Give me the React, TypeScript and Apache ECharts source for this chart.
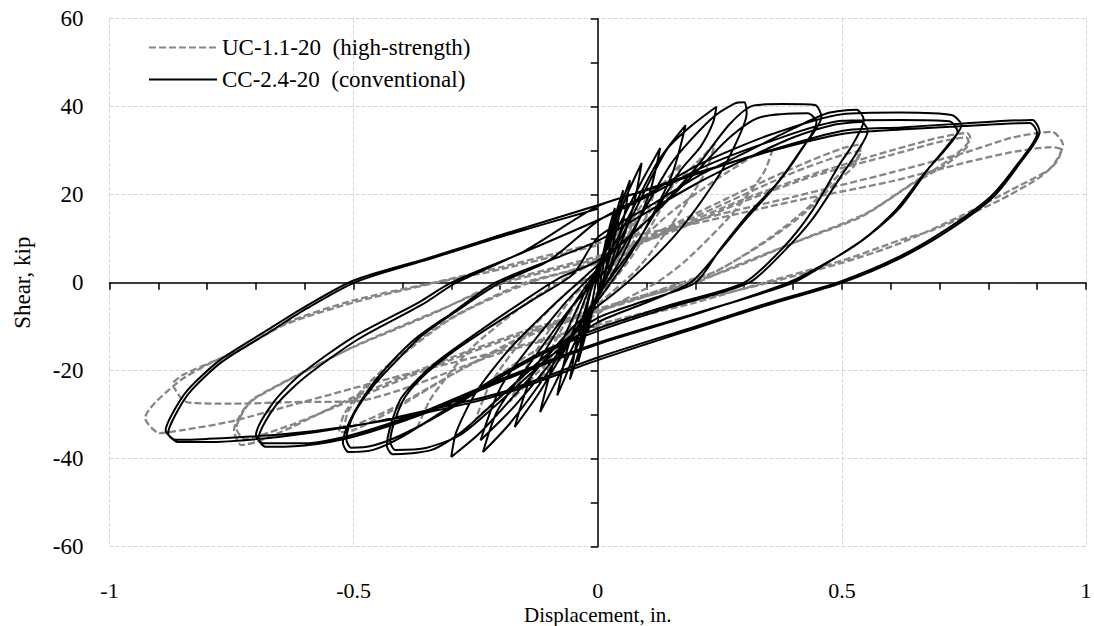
import React, { useEffect, useRef } from "react";
import * as echarts from "echarts";

const xTicks = [-1, -0.5, 0, 0.5, 1];
const yTicks = [-60, -40, -20, 0, 20, 40, 60];
const seriesNames = ["UC-1.1-20  (high-strength)", "CC-2.4-20  (conventional)"];

// CC-2.4-20 (conventional) cycles, [displacement in., shear kip]
const cc1 = [[0,0],[0.01,6],[0.02,11],[0.013,5],[0.003,-1],[-0.01,-6],[-0.02,-11],[-0.012,-5],[-0.002,1]];
const cc2 = [[0.012,7],[0.025,13],[0.035,17],[0.026,9],[0.01,0],[-0.015,-8],[-0.03,-14],[-0.04,-18],[-0.028,-9],[-0.01,0]];
const cc3 = [[0.015,8],[0.035,15],[0.052,21],[0.04,13],[0.015,2],[-0.02,-9],[-0.045,-18],[-0.057,-22],[-0.042,-13],[-0.015,-2]];
const cc4 = [[0.02,9],[0.045,17],[0.066,23.3],[0.052,14],[0.02,2],[-0.03,-11],[-0.065,-21],[-0.083,-25.6],[-0.062,-15],[-0.02,-2]];
const cc5 = [[0.02,8],[0.06,20],[0.09,27.2],[0.072,17],[0.03,4],[-0.04,-12],[-0.09,-23.5],[-0.118,-29.4],[-0.09,-18],[-0.03,-3]];
const cc6 = [[0.03,10],[0.09,23],[0.128,30.6],[0.105,20],[0.045,5],[-0.05,-12],[-0.12,-25],[-0.17,-32.8],[-0.135,-21],[-0.05,-5]];
const cc7 = [[0.03,8],[0.12,27],[0.18,35.8],[0.15,24],[0.07,7],[-0.06,-13],[-0.17,-28],[-0.24,-35.8],[-0.195,-23],[-0.07,-5]];
const cc8 = [[0.03,7],[0.14,30],[0.19,35.5],[0.243,40],[0.236,36.3],[0.21,30.8],[0.17,25.6],[0.085,10],[0,-3],[-0.1,-20],[-0.18,-32],[-0.235,-38.5],[-0.205,-29],[-0.13,-17],[-0.05,-5]];
const cc9 = [[0.04,6],[0.15,27],[0.23,37],[0.28,40.7],[0.3,41],[0.305,38.5],[0.28,31],[0.24,23],[0.16,11],[0.06,0],[-0.05,-10],[-0.15,-23],[-0.24,-34],[-0.3,-39.6],[-0.29,-34],[-0.25,-25],[-0.18,-15],[-0.09,-5]];
const cc10 = [[0,4],[0.1,14],[0.2,26],[0.27,36],[0.32,40.3],[0.38,40.6],[0.445,40.4],[0.458,37.7],[0.415,30],[0.367,22.6],[0.31,15.8],[0.25,7.5],[0.2,0],[0.1,-4],[0,-8],[-0.1,-16],[-0.2,-26],[-0.28,-34],[-0.34,-38],[-0.42,-39],[-0.432,-37],[-0.405,-26.7],[-0.364,-21.4],[-0.317,-16.9],[-0.24,-10.8],[-0.15,-4],[-0.08,1]];
const cc11 = [[0,5],[0.1,14],[0.2,25],[0.27,33],[0.33,37.5],[0.43,38.5],[0.448,36.5],[0.41,29],[0.36,21.5],[0.3,14],[0.24,6],[0.19,0],[0.1,-4.5],[0,-9],[-0.1,-17],[-0.2,-27],[-0.28,-34.5],[-0.35,-37.5],[-0.415,-38],[-0.425,-36],[-0.4,-27],[-0.36,-21.5],[-0.3,-16],[-0.22,-10],[-0.12,-3],[-0.05,2]];
const cc12 = [[0,10.3],[0.1,17],[0.21,24.5],[0.31,30],[0.4,35],[0.47,38.5],[0.53,39.3],[0.545,37],[0.52,31],[0.497,27.2],[0.436,15.8],[0.38,8],[0.3,0],[0.15,-5],[0,-10.4],[-0.1,-15],[-0.2,-21],[-0.3,-28],[-0.4,-35],[-0.46,-38],[-0.51,-38.5],[-0.522,-36.4],[-0.507,-31.2],[-0.47,-24.4],[-0.425,-18.3],[-0.37,-12.4],[-0.3,-7],[-0.21,0],[-0.1,5]];
const cc13 = [[0,9.5],[0.1,16],[0.21,23],[0.31,28.5],[0.4,33],[0.48,35.8],[0.54,36.5],[0.553,34.5],[0.53,29.5],[0.5,24.5],[0.44,14.5],[0.38,7],[0.31,0],[0.15,-5.5],[0,-11],[-0.1,-15.5],[-0.2,-21.5],[-0.3,-28.5],[-0.4,-34.5],[-0.46,-37],[-0.505,-37.5],[-0.515,-35.5],[-0.5,-30],[-0.46,-23.5],[-0.41,-17.5],[-0.36,-12],[-0.29,-6.5],[-0.2,0],[-0.1,5]];
const cc14 = [[0,14],[0.1,20],[0.21,27],[0.35,33.5],[0.5,38.3],[0.62,38.7],[0.725,38.1],[0.745,35.8],[0.715,31],[0.68,26.3],[0.62,17.2],[0.55,10.3],[0.48,5.2],[0.4,0],[0.2,-7],[0,-13.7],[-0.2,-22],[-0.35,-29],[-0.5,-34.5],[-0.6,-36.5],[-0.685,-36.5],[-0.7,-34.7],[-0.665,-27.3],[-0.61,-21],[-0.5,-12.3],[-0.37,-4.7],[-0.3,0],[-0.15,7]];
const cc15 = [[0,14.2],[0.1,19.5],[0.21,26],[0.35,32],[0.5,36.8],[0.62,37],[0.72,36.7],[0.737,34.3],[0.71,30],[0.67,25],[0.61,16.5],[0.54,9.5],[0.47,4.6],[0.39,0],[0.2,-7.2],[0,-14],[-0.2,-22.5],[-0.35,-29.5],[-0.5,-35],[-0.6,-37],[-0.68,-37.3],[-0.695,-35.5],[-0.66,-28],[-0.6,-21.5],[-0.49,-12.8],[-0.36,-5],[-0.29,0],[-0.15,7.2]];
const cc16 = [[0,17.4],[0.1,21],[0.21,25],[0.35,30],[0.5,34.5],[0.62,35.3],[0.75,36.2],[0.89,37],[0.905,34.3],[0.865,27.2],[0.81,19.5],[0.72,12],[0.62,5.6],[0.5,0],[0.35,-5],[0.21,-10],[0,-17.6],[-0.2,-25.5],[-0.35,-29.5],[-0.5,-32.5],[-0.65,-34.5],[-0.8,-35.5],[-0.865,-35.7],[-0.885,-33.5],[-0.87,-29.5],[-0.84,-24.4],[-0.774,-17.6],[-0.677,-10.8],[-0.6,-5.5],[-0.5,0.5],[-0.35,5.5],[-0.2,10.8],[0,17.6]];
const cc17 = [[0.1,21.2],[0.21,25.2],[0.35,29.8],[0.5,33.8],[0.62,34.8],[0.75,35.6],[0.885,36.3],[0.9,34],[0.86,27],[0.805,19.6],[0.715,12.2],[0.615,5.8],[0.495,0.2],[0.35,-4.6],[0.21,-9.6],[0,-17],[-0.2,-25],[-0.35,-29],[-0.5,-32.6],[-0.65,-35],[-0.8,-36.2],[-0.86,-36.2],[-0.88,-34.2],[-0.865,-30],[-0.835,-24.8],[-0.77,-18],[-0.672,-11.2],[-0.595,-5.8],[-0.495,0.2],[-0.35,5.2],[-0.2,10.4],[0,16.8]];

// UC-1.1-20 (high-strength) cycles
const uc1 = [[0,0],[0.015,5],[0.03,9],[0.02,4],[0.005,-1],[-0.015,-5],[-0.03,-9],[-0.02,-4],[-0.005,1]];
const uc2 = [[0.015,5],[0.035,10],[0.05,13],[0.035,7],[0.01,0],[-0.02,-6],[-0.04,-11],[-0.05,-13],[-0.035,-7],[-0.01,0]];
const uc3 = [[0.02,5],[0.055,13],[0.08,17],[0.06,10],[0.02,1],[-0.03,-8],[-0.06,-14],[-0.08,-18],[-0.06,-11],[-0.02,-1]];
const uc4 = [[0.02,4],[0.08,16],[0.12,22],[0.095,14],[0.04,3],[-0.03,-8],[-0.09,-18],[-0.12,-22],[-0.09,-14],[-0.03,-2]];
const uc5 = [[0.03,5],[0.1,18],[0.17,27],[0.14,19],[0.07,6],[-0.03,-8],[-0.12,-20],[-0.18,-27],[-0.14,-18],[-0.05,-3]];
const uc6 = [[0.03,4],[0.12,18],[0.2,27],[0.24,31.5],[0.22,25],[0.15,13],[0.08,3],[0,-5],[-0.1,-16],[-0.2,-26],[-0.25,-31],[-0.22,-23],[-0.14,-11],[-0.05,-1]];
const uc7 = [[0.04,5],[0.15,16],[0.25,24],[0.33,29.5],[0.36,31],[0.34,25],[0.27,15],[0.18,5],[0.12,0],[0,-7],[-0.15,-17],[-0.28,-27],[-0.37,-33],[-0.34,-26],[-0.26,-15],[-0.15,-5],[-0.08,0]];
const uc8 = [[0,5],[0.15,13],[0.3,21],[0.42,27],[0.5,30.5],[0.54,31.5],[0.53,28],[0.497,24.9],[0.43,17],[0.35,10],[0.25,3],[0.18,0],[0,-6],[-0.15,-12],[-0.3,-21],[-0.42,-29],[-0.5,-33.5],[-0.53,-34],[-0.52,-30],[-0.48,-24],[-0.4,-16],[-0.3,-8],[-0.15,0],[-0.05,3]];
const uc9 = [[0.1,10],[0.25,17.5],[0.4,25],[0.5,29],[0.54,30],[0.525,26.5],[0.49,23],[0.42,15.5],[0.34,9],[0.24,2.5],[0.17,0],[0,-6.5],[-0.15,-12.5],[-0.3,-21],[-0.42,-28.5],[-0.5,-32.5],[-0.52,-33],[-0.51,-29],[-0.47,-23.5],[-0.39,-15.5],[-0.29,-7.5],[-0.14,0],[0,4.5]];
const uc10 = [[0.15,12],[0.3,19],[0.45,25],[0.6,30],[0.7,33],[0.757,34],[0.763,32.9],[0.72,28],[0.654,23.3],[0.55,15.8],[0.415,9.7],[0.277,3.6],[0.2,0],[0,-6],[-0.15,-11],[-0.3,-17],[-0.5,-26],[-0.63,-33],[-0.7,-36.2],[-0.73,-36.9],[-0.745,-33.5],[-0.72,-28],[-0.7,-26],[-0.58,-19],[-0.5,-14.6],[-0.337,-7],[-0.2,0],[0,6]];
const uc11 = [[0.15,11.5],[0.3,18.5],[0.45,24.5],[0.6,29],[0.7,32],[0.755,33],[0.76,31.8],[0.715,27],[0.645,22.5],[0.54,15],[0.4,9],[0.27,3],[0.19,0],[0,-6.5],[-0.15,-11.5],[-0.3,-17.5],[-0.5,-26.5],[-0.62,-32],[-0.7,-35],[-0.725,-35.5],[-0.74,-33],[-0.715,-27.5],[-0.69,-25.5],[-0.57,-18.5],[-0.49,-14],[-0.33,-6.5],[-0.19,0],[0,5.5]];
const uc12 = [[0.2,14],[0.4,19.5],[0.6,25],[0.75,29.5],[0.85,33],[0.93,34.3],[0.953,31.3],[0.94,27.9],[0.923,25.6],[0.845,21],[0.75,15.5],[0.62,9],[0.5,4.5],[0.35,0],[0.2,-4],[0,-9.5],[-0.2,-15.5],[-0.4,-21],[-0.6,-27],[-0.75,-31.5],[-0.85,-33.5],[-0.897,-34.2],[-0.927,-30.8],[-0.862,-22.8],[-0.794,-18.3],[-0.733,-15.3],[-0.64,-9.2],[-0.5,-4],[-0.337,0],[-0.2,3.5],[0,9]];
const uc13 = [[0.2,13.5],[0.4,18.5],[0.6,23],[0.76,27.5],[0.85,29.7],[0.93,30.8],[0.95,30.2],[0.94,27.5],[0.906,24],[0.824,18.8],[0.687,12],[0.62,9.7],[0.5,5],[0.34,0],[0.2,-4.5],[0,-10],[-0.2,-16],[-0.405,-24.4],[-0.5,-27],[-0.61,-27.1],[-0.75,-27.5],[-0.84,-27.2],[-0.855,-26],[-0.87,-23],[-0.85,-21],[-0.79,-18],[-0.73,-15],[-0.64,-9.5],[-0.5,-4.5],[-0.34,-0.2],[-0.2,3],[0,8.5]];

const ccData = [cc1, cc2, cc3, cc4, cc5, cc6, cc7, cc8, cc9, cc10, cc11, cc12, cc13, cc14, cc15, cc16, cc17].flat();
const ucData = [uc1, uc2, uc3, uc4, uc5, uc6, uc7, uc8, uc9, uc10, uc11, uc12, uc13].flat();

const FONT = "Liberation Serif";
const FS = 21;

export default function App() {
  const ref = useRef<HTMLDivElement>(null);
  useEffect(() => {
    if (!ref.current) return;
    const chart = echarts.init(ref.current, undefined, { renderer: "svg" });
    const grid = { left: 109.5, right: 8, top: 18.7, bottom: 79.3, outerBoundsMode: "none", containLabel: false };
    chart.setOption({
      animation: false,
      textStyle: { fontFamily: FONT, color: "#000" },
      grid,
      legend: {
        data: seriesNames,
        orient: "vertical",
        left: 143,
        top: 31,
        itemWidth: 68,
        itemHeight: 14,
        itemGap: 9,
        itemStyle: { opacity: 0 },
        textStyle: { fontFamily: FONT, fontSize: 23, color: "#000" },
      },
      xAxis: [
        {
          type: "value",
          min: xTicks[0],
          max: xTicks[xTicks.length - 1],
          interval: 0.5,
          position: "bottom",
          axisLine: { show: false, onZero: false },
          axisTick: { show: false },
          axisLabel: { fontFamily: FONT, fontSize: 22, color: "#000", margin: 33 },
          splitLine: { show: true, lineStyle: { color: "#d4d4d4", type: [4, 2], width: 1 } },
          name: "Displacement, in.",
          nameLocation: "middle",
          nameGap: 58,
          nameMoveOverlap: false,
          nameTextStyle: { fontFamily: FONT, fontSize: FS, color: "#000" },
        },
        {
          type: "value",
          min: -1,
          max: 1,
          interval: 0.1,
          position: "top",
          axisLine: { show: true, onZero: true, lineStyle: { color: "#000", width: 1.5 } },
          axisTick: { show: true, inside: true, length: 7, lineStyle: { color: "#000", width: 1.5 } },
          axisLabel: { show: false },
          splitLine: { show: false },
        },
      ],
      yAxis: [
        {
          type: "value",
          min: yTicks[0],
          max: yTicks[yTicks.length - 1],
          interval: 20,
          position: "left",
          axisLine: { show: false, onZero: false },
          axisTick: { show: false },
          axisLabel: { fontFamily: FONT, fontSize: 23, color: "#000", margin: 26 },
          splitLine: { show: true, lineStyle: { color: "#d4d4d4", type: [4, 2], width: 1 } },
          name: "Shear, kip",
          nameLocation: "middle",
          nameGap: 76,
          nameMoveOverlap: false,
          nameTextStyle: { fontFamily: FONT, fontSize: 23, color: "#000" },
        },
        {
          type: "value",
          min: -60,
          max: 60,
          interval: 10,
          position: "right",
          axisLine: { show: true, onZero: true, lineStyle: { color: "#000", width: 1.5 } },
          axisTick: { show: true, inside: true, length: 7, lineStyle: { color: "#000", width: 1.5 } },
          axisLabel: { show: false },
          splitLine: { show: false },
        },
      ],
      series: [
        {
          name: seriesNames[0],
          type: "line",
          xAxisIndex: 0,
          yAxisIndex: 0,
          data: ucData,
          showSymbol: false,
          symbol: "none",
          smooth: 0.25,
          color: "#868686",
          lineStyle: { color: "#868686", width: 2.3, type: [7, 3] },
          z: 2,
        },
        {
          name: seriesNames[1],
          type: "line",
          xAxisIndex: 0,
          yAxisIndex: 0,
          data: ccData,
          showSymbol: false,
          symbol: "none",
          smooth: 0.25,
          color: "#000",
          lineStyle: { color: "#000", width: 2, type: "solid" },
          z: 3,
        },
      ],
    });
    return () => chart.dispose();
  }, []);
  return (
    <div
      ref={ref}
      style={{ position: "absolute", left: 0, top: 0, width: 1094, height: 626 }}
    />
  );
}
